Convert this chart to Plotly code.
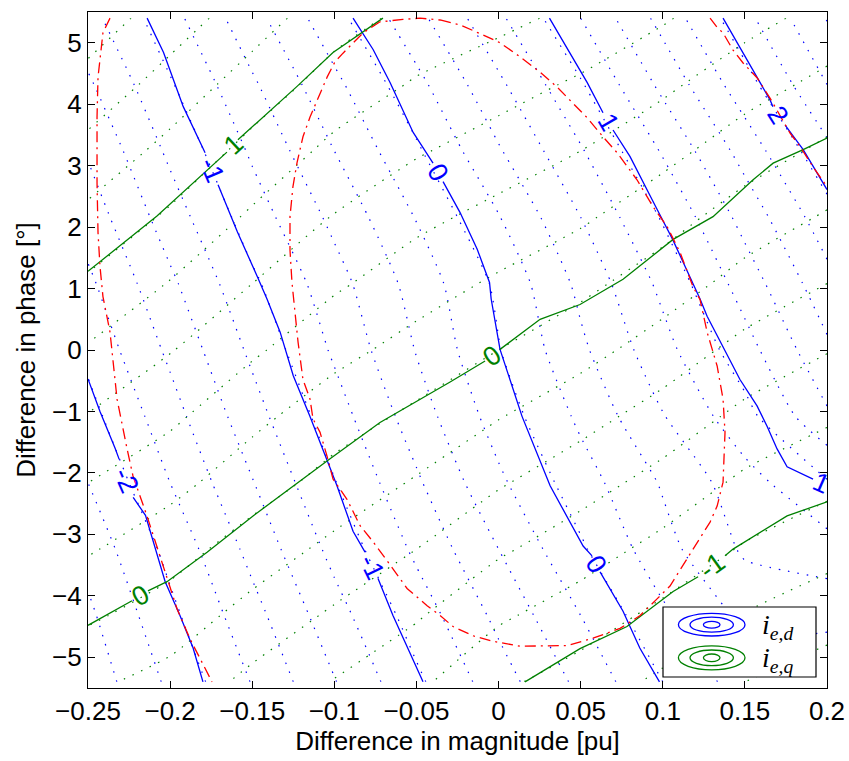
import plotly.graph_objects as go

# ---------------- data ----------------
grid_x = [-0.25, -0.2, -0.15, -0.1, -0.05, 0.0, 0.05, 0.1, 0.15, 0.2]
grid_y = [-5.4, -4.32, -3.24, -2.16, -1.08, 0.0, 1.08, 2.16, 3.24, 4.32, 5.4]

# i_e,d field (rows follow grid_y, columns follow grid_x)
ied_grid = [
    [-2.53, -2.16, -1.79, -1.41, -1.04, -0.69, -0.35, 0.00, 0.30, 0.25],
    [-2.44, -2.05, -1.67, -1.28, -0.91, -0.55, -0.20, 0.16, 0.45, 0.45],
    [-2.33, -1.94, -1.54, -1.14, -0.76, -0.40, -0.03, 0.33, 0.63, 0.72],
    [-2.20, -1.80, -1.41, -1.01, -0.63, -0.24, 0.11, 0.42, 0.72, 0.98],
    [-2.07, -1.68, -1.28, -0.89, -0.50, -0.11, 0.24, 0.59, 0.93, 1.37],
    [-1.95, -1.56, -1.16, -0.77, -0.39, -0.01, 0.36, 0.73, 1.12, 1.56],
    [-1.84, -1.44, -1.04, -0.68, -0.32, 0.04, 0.45, 0.85, 1.29, 1.73],
    [-1.71, -1.30, -0.90, -0.55, -0.19, 0.19, 0.60, 1.02, 1.47, 1.92],
    [-1.58, -1.16, -0.77, -0.40, -0.03, 0.38, 0.78, 1.22, 1.68, 2.15],
    [-1.43, -1.02, -0.63, -0.25, 0.14, 0.56, 0.98, 1.45, 1.92, 2.40],
    [-1.27, -0.87, -0.47, -0.07, 0.34, 0.76, 1.20, 1.67, 2.14, 2.61],
]

# i_e,q field
ieq_grid = [
    [-0.16, -0.27, -0.45, -0.61, -0.76, -0.96, -1.09, -1.24, -1.40, -1.50],
    [0.03, -0.09, -0.27, -0.43, -0.58, -0.77, -0.90, -1.05, -1.21, -1.32],
    [0.22, 0.08, -0.09, -0.25, -0.40, -0.57, -0.71, -0.86, -1.02, -1.13],
    [0.40, 0.26, 0.09, -0.07, -0.22, -0.38, -0.52, -0.67, -0.84, -0.95],
    [0.59, 0.44, 0.25, 0.09, -0.04, -0.19, -0.33, -0.48, -0.65, -0.77],
    [0.78, 0.61, 0.43, 0.26, 0.13, 0.00, -0.13, -0.29, -0.46, -0.59],
    [0.97, 0.79, 0.60, 0.43, 0.29, 0.17, 0.05, -0.10, -0.27, -0.40],
    [1.15, 0.97, 0.77, 0.59, 0.45, 0.34, 0.23, 0.08, -0.09, -0.22],
    [1.34, 1.14, 0.94, 0.75, 0.62, 0.51, 0.40, 0.26, 0.10, -0.04],
    [1.53, 1.32, 1.11, 0.92, 0.78, 0.68, 0.57, 0.44, 0.28, 0.15],
    [1.71, 1.50, 1.29, 1.08, 0.94, 0.85, 0.75, 0.62, 0.47, 0.33],
]

# solid (integer-level) contour lines, None = gap where the label sits
ied_m2_x = [-0.25, -0.2427, -0.2335, -0.231, None, -0.2225, -0.215, -0.203, -0.194, -0.186, -0.18]
ied_m2_y = [-0.47, -1.0, -1.6, -1.78, None, -2.4, -2.69, -3.77, -4.32, -4.85, -5.4]

ied_m1_x = [-0.214, -0.204, -0.192, -0.18, -0.1787, None, -0.1708, -0.159, -0.147, -0.141, -0.133,
            -0.125, -0.115, -0.104, -0.0985, -0.0886, -0.0813, None, -0.0734, -0.0643, -0.046]
ied_m1_y = [5.4, 4.84, 3.96, 3.26, 3.21, None, 2.69, 1.92, 1.2, 0.83, 0.29,
            -0.42, -1.07, -1.82, -2.2, -2.95, -3.29, None, -3.72, -4.32, -5.4]

ied_0_x = [-0.0886, -0.0764, -0.066, -0.052, -0.0399, None, -0.0338, -0.0235, -0.013, -0.0055, -0.0045,
           0.0009, 0.0143, 0.0314, 0.0515, 0.0569, None, 0.0618, 0.0758, 0.086, 0.098]
ied_0_y = [5.4, 4.89, 4.35, 3.54, 3.04, None, 2.74, 2.24, 1.64, 1.1, 0.83,
           0.01, -1.08, -2.21, -3.19, -3.35, None, -3.61, -4.25, -4.85, -5.4]

ied_1_x = [0.031, 0.054, 0.0636, None, 0.0697, 0.080, 0.0965, 0.106, 0.1227, 0.127, 0.147,
           0.1574, 0.1635, 0.1696, 0.1757, 0.1915]
ied_1_y = [5.4, 4.35, 3.86, None, 3.58, 3.15, 2.29, 1.8, 0.83, 0.55, -0.48,
           -0.91, -1.24, -1.61, -1.90, -2.10]

ied_2_x = [0.1367, 0.1489, 0.1653, 0.1671, None, 0.1745, 0.1855, 0.2]
ied_2_y = [5.4, 4.83, 4.07, 3.96, None, 3.66, 3.26, 2.61]

ieq_1_x = [-0.25, -0.208, -0.1654, None, -0.1587, -0.1227, -0.1008, -0.0704]
ieq_1_y = [1.28, 2.18, 3.22, None, 3.42, 4.29, 4.84, 5.4]

ieq_0_x = [-0.25, -0.2232, None, -0.2135, -0.2019, -0.1775, -0.1495, -0.1026, -0.0722, -0.0295, -0.0082,
           None, 0.0009, 0.0253, 0.0496, 0.0758, 0.1063, 0.1306, 0.155, 0.1672, 0.1855, 0.2]
ieq_0_y = [-4.48, -4.08, None, -3.92, -3.77, -3.29, -2.70, -1.77, -1.18, -0.52, -0.18,
           None, 0.01, 0.50, 0.74, 1.15, 1.80, 2.17, 2.77, 3.04, 3.26, 3.45]

ieq_m1_x = [0.0161, 0.0496, 0.0782, 0.1063, 0.1215, None, 0.1379, 0.1428, 0.1757, 0.2]
ieq_m1_y = [-5.4, -4.86, -4.50, -3.93, -3.69, None, -3.35, -3.24, -2.70, -2.47]

# contour labels
blue_lbl_text = ["-2", "-1", "-1", "0", "0", "1", "1", "2"]
blue_lbl_x = [-0.2269, -0.1745, -0.0771, -0.0369, 0.0594, 0.0667, 0.1964, 0.1702]
blue_lbl_y = [-2.12, 2.93, -3.53, 2.88, -3.48, 3.71, -2.16, 3.83]
blue_lbl_angle = [66, 67, 64, 60, 59, 60, 24, 58]

green_lbl_text = ["1", "0", "0", "-1"]
green_lbl_x = [-0.1617, -0.2183, -0.004, 0.13]
green_lbl_y = [3.34, -4.0, -0.09, -3.51]
green_lbl_angle = [-43, -29, -35, -36]

# red dash-dot boundary curves
red_loop_x = [-0.0356, -0.0234, -0.0131, 0.0009, 0.0131, 0.0253, 0.0356, 0.0435, 0.0539, 0.0636,
              0.0722, 0.0843, 0.0941, 0.1026, 0.1105, 0.1184, 0.1227, 0.127, 0.1331, 0.1367,
              0.1379, 0.1367, 0.1331, 0.1288, 0.1184, 0.1105, 0.1044, 0.0965, 0.0862, 0.074,
              0.0575, 0.0417, 0.0253, 0.0131, -0.0034, -0.0155, -0.0277, -0.0356, -0.0435, -0.0557,
              -0.0643, -0.0764, -0.0843, -0.0923, -0.1008, -0.1044, -0.1087, -0.113, -0.1148, -0.1191,
              -0.1221, -0.1239, -0.1258, -0.127, -0.127, -0.1252, -0.1227, -0.1191, -0.1148, -0.1105,
              -0.1044, -0.0996, -0.0947, -0.0825, -0.0722, -0.0582, -0.0478, -0.0356]
red_loop_y = [5.37, 5.29, 5.17, 5.00, 4.77, 4.52, 4.28, 4.06, 3.78, 3.47,
              3.21, 2.77, 2.33, 2.01, 1.59, 1.03, 0.82, 0.29, -0.26, -0.80,
              -1.34, -2.15, -2.54, -2.80, -3.24, -3.56, -3.84, -4.05, -4.32, -4.53,
              -4.69, -4.81, -4.82, -4.82, -4.74, -4.65, -4.50, -4.32, -4.16, -3.88,
              -3.56, -3.12, -2.86, -2.43, -2.10, -1.73, -1.34, -1.12, -0.80, -0.48,
              0.13, 0.61, 1.10, 1.63, 2.17, 2.66, 3.05, 3.47, 3.79, 4.06,
              4.44, 4.69, 4.83, 5.16, 5.34, 5.38, 5.40, 5.37]

red_left_x = [-0.2366, -0.2409, -0.2439, -0.2445, -0.2445, -0.2439, -0.2427, -0.2409, -0.2366,
              -0.2323, -0.2262, -0.2226, -0.2141, -0.2062, -0.1958, -0.1879, -0.1757, -0.1745]
red_left_y = [5.40, 5.16, 4.44, 3.79, 2.72, 1.91, 1.36, 0.87, 0.29,
              -0.80, -1.61, -2.05, -2.70, -3.35, -4.21, -4.70, -5.35, -5.40]

red_right_x = [0.1288, 0.1331, 0.1367, 0.1428, 0.1489, 0.1574, 0.1653, 0.1775, 0.1836, 0.1915, 0.2]
red_right_y = [5.40, 5.25, 5.16, 4.88, 4.67, 4.43, 4.10, 3.53, 3.31, 2.98, 2.66]

x_ticks = [-0.25, -0.2, -0.15, -0.1, -0.05, 0, 0.05, 0.1, 0.15, 0.2]
x_ticktext = ["\u22120.25", "\u22120.2", "\u22120.15", "\u22120.1", "\u22120.05",
              "0", "0.05", "0.1", "0.15", "0.2"]
y_ticks = [-5, -4, -3, -2, -1, 0, 1, 2, 3, 4, 5]
y_ticktext = ["\u22125", "\u22124", "\u22123", "\u22122", "\u22121", "0", "1", "2", "3", "4", "5"]

legend_labels = ["<i>i</i><sub><i>e,d</i></sub>", "<i>i</i><sub><i>e,q</i></sub>"]

# ---------------- styling ----------------
BLUE = "#0000ff"
GREEN = "#008000"
RED = "#ff0000"
FONT = "Liberation Sans, Arial, Helvetica, sans-serif"

fig = go.Figure()

# fine (dotted) contours
fig.add_trace(go.Contour(
    x=grid_x, y=grid_y, z=ied_grid,
    contours=dict(coloring="lines", start=-3, end=3, size=0.2, showlabels=False),
    line=dict(width=1.2, dash="1.5px,8px", smoothing=0.6),
    colorscale=[[0, BLUE], [1, BLUE]], showscale=False, hoverinfo="skip"))
fig.add_trace(go.Contour(
    x=grid_x, y=grid_y, z=ieq_grid,
    contours=dict(coloring="lines", start=-2, end=2, size=0.2, showlabels=False),
    line=dict(width=1.2, dash="1.5px,8px", smoothing=0.6),
    colorscale=[[0, GREEN], [1, GREEN]], showscale=False, hoverinfo="skip"))

# solid contour lines
for xs, ys in [(ied_m2_x, ied_m2_y), (ied_m1_x, ied_m1_y), (ied_0_x, ied_0_y),
               (ied_1_x, ied_1_y), (ied_2_x, ied_2_y)]:
    fig.add_trace(go.Scatter(x=xs, y=ys, mode="lines", line=dict(color=BLUE, width=1.3),
                             hoverinfo="skip", connectgaps=False))
for xs, ys in [(ieq_1_x, ieq_1_y), (ieq_0_x, ieq_0_y), (ieq_m1_x, ieq_m1_y)]:
    fig.add_trace(go.Scatter(x=xs, y=ys, mode="lines", line=dict(color=GREEN, width=1.3),
                             hoverinfo="skip", connectgaps=False))

# red dash-dot curves
for xs, ys in [(red_loop_x, red_loop_y), (red_left_x, red_left_y), (red_right_x, red_right_y)]:
    fig.add_trace(go.Scatter(x=xs, y=ys, mode="lines",
                             line=dict(color=RED, width=1.3, dash="11px,5px,2px,5px"),
                             hoverinfo="skip"))

annotations = []
for t, x, y, a in zip(blue_lbl_text, blue_lbl_x, blue_lbl_y, blue_lbl_angle):
    annotations.append(dict(x=x, y=y, xref="x", yref="y", text=t, showarrow=False,
                            textangle=a, font=dict(family=FONT, size=27, color=BLUE),
                            xanchor="center", yanchor="middle"))
for t, x, y, a in zip(green_lbl_text, green_lbl_x, green_lbl_y, green_lbl_angle):
    annotations.append(dict(x=x, y=y, xref="x", yref="y", text=t, showarrow=False,
                            textangle=a, font=dict(family=FONT, size=27, color=GREEN),
                            xanchor="center", yanchor="middle"))

# ---------------- custom legend (paper coordinates from pixel layout) ----------------
L, R, T, B = 88, 827, 12, 688


def pxx(p):
    return (p - L) / (R - L)


def pxy(p):
    return (B - p) / (B - T)


shapes = [dict(type="rect", xref="paper", yref="paper",
               x0=pxx(663), x1=pxx(816), y0=pxy(677), y1=pxy(607),
               line=dict(color="black", width=1.2), fillcolor="white", layer="above")]
for cy, col, hhs in [(624.7, BLUE, [11.3, 7.5, 3.4]), (657.8, GREEN, [12.0, 7.8, 3.8])]:
    for hw, hh in zip([33.3, 21.7, 8.3], hhs):
        shapes.append(dict(type="circle", xref="paper", yref="paper",
                           x0=pxx(711.7 - hw), x1=pxx(711.7 + hw),
                           y0=pxy(cy + hh), y1=pxy(cy - hh),
                           line=dict(color=col, width=1.3), layer="above"))
for txt, cy in zip(legend_labels, [626, 659]):
    annotations.append(dict(x=pxx(760), y=pxy(cy), xref="paper", yref="paper", text=txt,
                            showarrow=False, xanchor="left", yanchor="middle",
                            font=dict(family="Liberation Serif, DejaVu Serif, serif",
                                      size=28, color="black")))

axis_common = dict(showline=True, linecolor="black", linewidth=1.2, mirror="ticks",
                   ticks="inside", ticklen=7, tickwidth=1.2, tickcolor="black",
                   showgrid=False, zeroline=False, automargin=False,
                   tickfont=dict(family=FONT, size=26, color="black"))

fig.update_layout(
    width=849, height=761,
    margin=dict(l=88, r=22, t=12, b=73, autoexpand=False),
    paper_bgcolor="white", plot_bgcolor="white",
    showlegend=False,
    font=dict(family=FONT, size=26, color="black"),
    xaxis=dict(range=[-0.25, 0.2], tickmode="array", tickvals=x_ticks, ticktext=x_ticktext,
               title=dict(text="Difference in magnitude [pu]", font=dict(family=FONT, size=26),
                          standoff=4),
               **axis_common),
    yaxis=dict(range=[-5.5, 5.5], tickmode="array", tickvals=y_ticks, ticktext=y_ticktext,
               title=dict(text="Difference in phase [\u00b0]", font=dict(family=FONT, size=26),
                          standoff=8),
               **axis_common),
    shapes=shapes,
    annotations=annotations,
)

fig.write_html("out.html")
